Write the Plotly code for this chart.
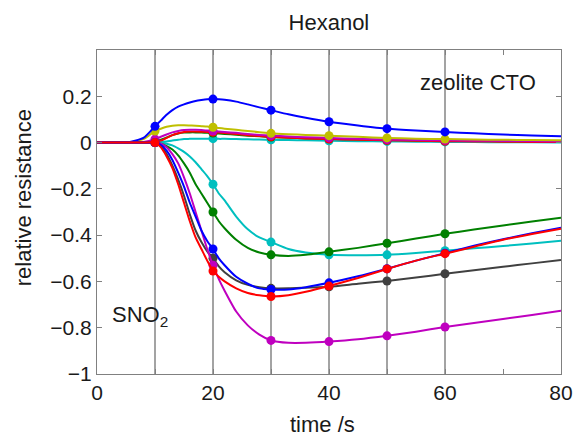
import plotly.graph_objects as go

# ---------------- data ----------------
t = [0, 5, 8, 10, 11, 12, 13, 14, 15, 16, 17, 18, 19, 20, 21, 22, 24, 26, 28, 30,
     33, 36, 40, 45, 50, 55, 60, 65, 70, 75, 80]

# SnO2 sensors (decreasing)
sno2_red = [0, 0, 0, 0, -0.02, -0.06, -0.11, -0.18, -0.26, -0.34, -0.41, -0.46, -0.51, -0.555, -0.58, -0.60,
            -0.63, -0.65, -0.66, -0.665, -0.66, -0.645, -0.62, -0.585, -0.546, -0.51, -0.48, -0.45, -0.42, -0.395, -0.372]
sno2_black = [0, 0, 0, 0, -0.015, -0.05, -0.10, -0.16, -0.23, -0.31, -0.38, -0.43, -0.47, -0.50, -0.535, -0.56,
              -0.595, -0.615, -0.625, -0.63, -0.63, -0.627, -0.623, -0.61, -0.598, -0.583, -0.567, -0.552, -0.537, -0.522, -0.507]
sno2_blue = [0, 0, 0, 0, -0.01, -0.035, -0.075, -0.13, -0.19, -0.26, -0.32, -0.38, -0.425, -0.46, -0.50, -0.53,
             -0.58, -0.61, -0.63, -0.635, -0.635, -0.625, -0.606, -0.578, -0.545, -0.51, -0.478, -0.446, -0.418, -0.392, -0.368]
sno2_magenta = [0, 0, 0, 0, -0.005, -0.02, -0.05, -0.09, -0.15, -0.22, -0.30, -0.38, -0.46, -0.53, -0.59, -0.64,
                -0.73, -0.79, -0.83, -0.855, -0.865, -0.865, -0.86, -0.85, -0.835, -0.817, -0.797, -0.78, -0.762, -0.745, -0.727]
sno2_green = [0, 0, 0, 0, -0.005, -0.015, -0.03, -0.055, -0.09, -0.13, -0.18, -0.22, -0.26, -0.30, -0.34, -0.37,
              -0.42, -0.455, -0.475, -0.485, -0.49, -0.485, -0.472, -0.455, -0.435, -0.415, -0.394, -0.376, -0.358, -0.341, -0.325]
sno2_cyan = [0, 0, 0, 0, 0, -0.005, -0.012, -0.025, -0.04, -0.06, -0.085, -0.115, -0.145, -0.18, -0.22, -0.25,
             -0.32, -0.375, -0.41, -0.43, -0.46, -0.475, -0.485, -0.487, -0.485, -0.477, -0.467, -0.457, -0.447, -0.436, -0.424]

# zeolite CTO sensors (increasing)
zeo_blue = [0, 0, 0.02, 0.07, 0.095, 0.12, 0.14, 0.155, 0.165, 0.173, 0.18, 0.184, 0.187, 0.188, 0.187, 0.185,
            0.177, 0.165, 0.152, 0.14, 0.122, 0.107, 0.09, 0.074, 0.06, 0.052, 0.046, 0.04, 0.035, 0.031, 0.027]
zeo_yellow = [0, 0, 0.015, 0.05, 0.06, 0.068, 0.073, 0.075, 0.075, 0.074, 0.073, 0.071, 0.069, 0.066, 0.063, 0.06,
              0.055, 0.05, 0.045, 0.04, 0.036, 0.033, 0.03, 0.025, 0.02, 0.017, 0.015, 0.013, 0.012, 0.011, 0.01]
zeo_magenta = [0, 0, 0.003, 0.015, 0.025, 0.035, 0.044, 0.05, 0.054, 0.055, 0.055, 0.054, 0.052, 0.05, 0.048, 0.046,
               0.042, 0.037, 0.033, 0.03, 0.026, 0.023, 0.02, 0.016, 0.013, 0.011, 0.01, 0.008, 0.007, 0.006, 0.005]
zeo_red = [0, 0, 0, 0, 0.008, 0.02, 0.032, 0.04, 0.046, 0.048, 0.048, 0.047, 0.046, 0.045, 0.043, 0.041,
           0.037, 0.032, 0.028, 0.025, 0.021, 0.018, 0.015, 0.012, 0.01, 0.008, 0.006, 0.005, 0.004, 0.003, 0.003]
zeo_green = [0, 0, 0, 0.005, 0.012, 0.022, 0.032, 0.039, 0.043, 0.044, 0.044, 0.043, 0.042, 0.041, 0.039, 0.037,
             0.034, 0.03, 0.027, 0.024, 0.021, 0.018, 0.016, 0.013, 0.011, 0.009, 0.008, 0.007, 0.006, 0.005, 0.004]
zeo_cyan = [0, 0, 0, 0, 0.002, 0.005, 0.009, 0.012, 0.015, 0.016, 0.017, 0.017, 0.017, 0.017, 0.016, 0.016,
            0.015, 0.014, 0.013, 0.012, 0.011, 0.01, 0.008, 0.006, 0.005, 0.004, 0.003, 0.002, 0.001, 0.001, 0.0]

marker_times = [10, 20, 30, 40, 50, 60]
grid_x = [10, 20, 30, 40, 50, 60]
x_ticks = [0, 20, 40, 60, 80]
y_ticks = [-1, -0.8, -0.6, -0.4, -0.2, 0, 0.2]

BLUE = "#0000ff"
GREEN = "#008000"
RED = "#ff0000"
CYAN = "#00bfbf"
MAGENTA = "#bf00bf"
YELLOW = "#bfbf00"
BLACK = "#404040"

series = [
    (zeo_cyan, CYAN), (zeo_green, GREEN), (zeo_red, RED), (zeo_magenta, MAGENTA),
    (zeo_yellow, YELLOW), (zeo_blue, BLUE),
    (sno2_cyan, CYAN), (sno2_green, GREEN), (sno2_black, BLACK), (sno2_magenta, MAGENTA),
    (sno2_blue, BLUE), (sno2_red, RED),
]

FONT = "Liberation Sans, Arial, Helvetica, sans-serif"

fig = go.Figure()
for vals, col in series:
    fig.add_trace(go.Scatter(x=t, y=vals, mode="lines", line=dict(color=col, width=2, shape="spline", smoothing=0.6),
                             hoverinfo="skip", showlegend=False))
    mx = [tt for tt in t if tt in marker_times]
    my = [v for tt, v in zip(t, vals) if tt in marker_times]
    fig.add_trace(go.Scatter(x=mx, y=my, mode="markers", marker=dict(color=col, size=9),
                             showlegend=False))

for gx in grid_x:
    fig.add_shape(type="line", x0=gx, x1=gx, y0=0, y1=1, xref="x", yref="paper",
                  line=dict(color="#666666", width=1.2), layer="below")

fig.update_layout(
    width=576, height=439,
    margin=dict(l=97, r=15, t=50, b=65, autoexpand=False),
    paper_bgcolor="white", plot_bgcolor="white",
    font=dict(family=FONT, size=21, color="#1a1a1a"),
    title=dict(text="Hexanol", x=0.571, xanchor="center", y=0.95, yanchor="middle",
               font=dict(size=22)),
    xaxis=dict(range=[0, 80], tickvals=x_ticks, ticks="inside", ticklen=5, tickcolor="#808080",
               showline=True, linecolor="#808080", linewidth=1, mirror="ticks", showgrid=False, zeroline=False,
               automargin=False,
               minor=dict(dtick=10, ticks="inside", ticklen=5, tickcolor="#808080")),
    yaxis=dict(range=[-1, 0.4], tickvals=y_ticks, ticks="inside", ticklen=5, tickcolor="#808080",
               showline=True, linecolor="#808080", linewidth=1, mirror="ticks", showgrid=False, zeroline=False,
               automargin=False),
    annotations=[
        dict(text="time /s", x=0.485, y=-0.157, xref="paper", yref="paper", showarrow=False,
             xanchor="center", yanchor="middle", font=dict(size=22)),
        dict(text="relative resistance", x=-0.159, y=0.543, xref="paper", yref="paper", showarrow=False,
             textangle=-90, xanchor="center", yanchor="middle", font=dict(size=22)),
        dict(text="zeolite CTO", x=0.821, y=0.901, xref="paper", yref="paper", showarrow=False,
             xanchor="center", yanchor="middle", font=dict(size=22)),
        dict(text="SNO<sub>2</sub>", x=0.093, y=0.178, xref="paper", yref="paper", showarrow=False,
             xanchor="center", yanchor="middle", font=dict(size=22)),
    ],
)

fig.write_html("out.html", config={"displayModeBar": False},
               post_script="document.body.style.margin='0';document.body.style.padding='0';")
